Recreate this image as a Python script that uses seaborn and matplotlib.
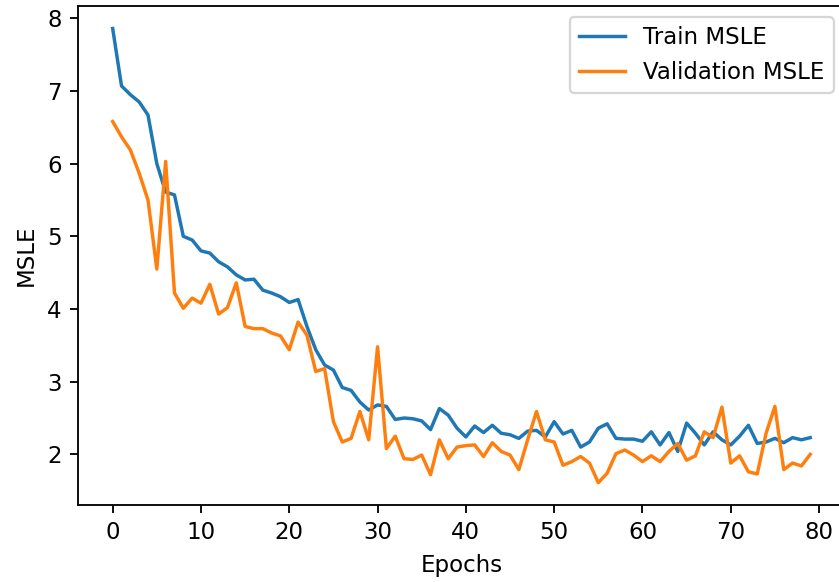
import matplotlib
matplotlib.use("Agg")
import matplotlib.pyplot as plt
import seaborn as sns
import numpy as np
import pandas as pd

epochs = list(range(80))

train_msle = [7.86, 7.07, 6.95, 6.85, 6.67, 6.00, 5.61, 5.57, 5.00, 4.95,
              4.80, 4.77, 4.65, 4.58, 4.47, 4.40, 4.41, 4.26, 4.22, 4.17,
              4.09, 4.13, 3.76, 3.44, 3.23, 3.16, 2.92, 2.88, 2.72, 2.61,
              2.68, 2.66, 2.48, 2.50, 2.49, 2.46, 2.34, 2.63, 2.54, 2.36,
              2.24, 2.39, 2.30, 2.40, 2.29, 2.27, 2.22, 2.32, 2.33, 2.24,
              2.45, 2.28, 2.33, 2.10, 2.17, 2.36, 2.42, 2.22, 2.21, 2.21,
              2.18, 2.31, 2.13, 2.30, 2.04, 2.43, 2.29, 2.13, 2.31, 2.20,
              2.13, 2.25, 2.40, 2.15, 2.17, 2.22, 2.16, 2.23, 2.20, 2.23]

val_msle = [6.58, 6.37, 6.19, 5.87, 5.50, 4.55, 6.03, 4.22, 4.01, 4.15,
            4.08, 4.34, 3.93, 4.02, 4.36, 3.76, 3.73, 3.73, 3.67, 3.63,
            3.44, 3.82, 3.64, 3.14, 3.18, 2.45, 2.17, 2.22, 2.59, 2.20,
            3.48, 2.08, 2.25, 1.94, 1.93, 1.99, 1.72, 2.20, 1.94, 2.10,
            2.12, 2.13, 1.97, 2.16, 2.04, 1.99, 1.79, 2.20, 2.59, 2.20,
            2.17, 1.85, 1.90, 1.97, 1.88, 1.61, 1.74, 2.01, 2.06, 1.99,
            1.90, 1.98, 1.90, 2.04, 2.15, 1.92, 1.98, 2.31, 2.23, 2.65,
            1.88, 1.98, 1.76, 1.73, 2.29, 2.66, 1.79, 1.88, 1.84, 2.00]

series_labels = ["Train MSLE", "Validation MSLE"]

df = pd.DataFrame({
    "Epochs": epochs * 2,
    "MSLE": train_msle + val_msle,
    "Series": [series_labels[0]] * len(epochs) + [series_labels[1]] * len(epochs),
})

plt.rcParams["font.family"] = ["DejaVu Sans"]
dpi = 165
fig = plt.figure(figsize=(839 / dpi, 582 / dpi), dpi=dpi)
ax = fig.add_axes([77.8 / 839, (582 - 505.4) / 582, 767.3 / 839, 499.6 / 582])

sns.lineplot(data=df, x="Epochs", y="MSLE", hue="Series",
             palette=["#1f77b4", "#ff7f0e"], linewidth=1.5, ax=ax)

ax.set_xticks(range(0, 81, 10))
ax.set_yticks([2, 3, 4, 5, 6, 7, 8])
ax.set_xlabel("Epochs")
ax.set_ylabel("MSLE")
ax.legend(loc="upper right", title=None)

fig.savefig("out.png", dpi=dpi)
